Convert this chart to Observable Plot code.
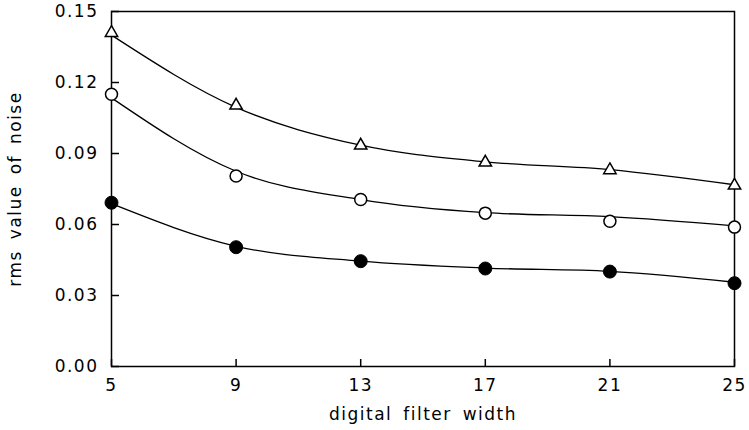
<!DOCTYPE html>
<html><head><meta charset="utf-8">
<script src="https://cdn.jsdelivr.net/npm/d3@7"></script>
<script src="https://cdn.jsdelivr.net/npm/@observablehq/plot@0.6"></script>
<style>body{margin:0;background:#fff}</style>
</head><body><div id="chart"></div>
<script>
const widths = [5, 9, 13, 17, 21, 25];
const triangleValues = [0.1410, 0.1103, 0.0934, 0.0862, 0.0830, 0.0765];
const openValues     = [0.1150, 0.0805, 0.0706, 0.0648, 0.0614, 0.0589];
const filledValues   = [0.0692, 0.0504, 0.0445, 0.0414, 0.0401, 0.0352];
const triangleFit = [0.1400, 0.1095, 0.0935, 0.0865, 0.0832, 0.0768];
const openFit     = [0.1135, 0.0825, 0.0705, 0.0650, 0.0633, 0.0594];
const filledFit   = [0.0688, 0.0508, 0.0445, 0.0416, 0.0402, 0.0356];
const xTicks = [5, 9, 13, 17, 21, 25];
const yTicks = [0, 0.03, 0.06, 0.09, 0.12, 0.15];

const rows = (ys) => widths.map((x, i) => ({x, y: ys[i]}));

const W = 749, H = 430, ML = 111, MR = 15, MT = 11, MB = 64;
const plotW = W - ML - MR, plotH = H - MT - MB;

const chart = Plot.plot({
  width: W,
  height: H,
  marginLeft: ML,
  marginRight: MR,
  marginTop: MT,
  marginBottom: MB,
  style: {fontFamily: "'DejaVu Sans', sans-serif", fontSize: "17px", color: "#000", background: "#fff", letterSpacing: "1.5px", wordSpacing: "4px"},
  x: {domain: [5, 25]},
  y: {domain: [0, 0.15]},
  marks: [
    Plot.axisX({ticks: xTicks, tickSize: 0, tickPadding: 12, tickFormat: d3.format("d"), fontSize: 17,
      label: "digital filter width", labelAnchor: "center", labelArrow: "none", labelOffset: 53}),
    Plot.axisY({ticks: yTicks, tickSize: 0, tickPadding: 13, tickFormat: d3.format(".2f"), fontSize: 17,
      label: "rms value of noise", labelAnchor: "center", labelArrow: "none", labelOffset: 103}),
    Plot.frame({stroke: "#000", strokeWidth: 1.5}),
    Plot.tickX(xTicks, {x: d => d, stroke: "#000", strokeWidth: 1.5, insetTop: plotH - 7}),
    Plot.tickY(yTicks, {y: d => d, stroke: "#000", strokeWidth: 1.5, insetRight: plotW - 8}),
    Plot.line(rows(triangleFit), {x: "x", y: "y", curve: "monotone-x", stroke: "#000", strokeWidth: 1.3}),
    Plot.line(rows(openFit), {x: "x", y: "y", curve: "monotone-x", stroke: "#000", strokeWidth: 1.3}),
    Plot.line(rows(filledFit), {x: "x", y: "y", curve: "monotone-x", stroke: "#000", strokeWidth: 1.3}),
    Plot.dot(rows(triangleValues), {x: "x", y: "y", symbol: "triangle", r: 4.6, fill: "#fff", stroke: "#000", strokeWidth: 1.5}),
    Plot.dot(rows(openValues), {x: "x", y: "y", symbol: "circle", r: 6, fill: "#fff", stroke: "#000", strokeWidth: 1.5}),
    Plot.dot(rows(filledValues), {x: "x", y: "y", symbol: "circle", r: 6.5, fill: "#000", stroke: "#000", strokeWidth: 1})
  ]
});
document.getElementById("chart").appendChild(chart);
</script>
</body></html>
